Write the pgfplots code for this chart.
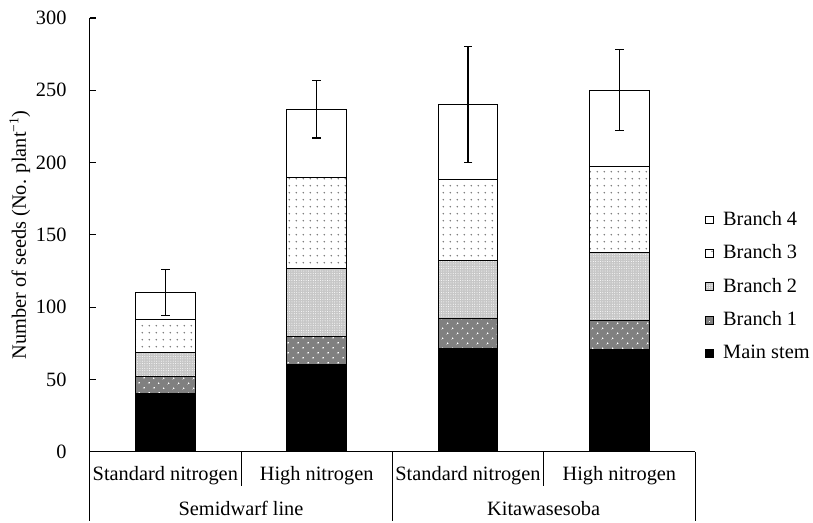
\documentclass[border=0pt,12pt]{standalone}
\usepackage{pgfplots}
\pgfplotsset{compat=1.18}
\usepackage{fontspec}
\setmainfont{Liberation Serif}
\usetikzlibrary{patterns,patterns.meta}

\pgfplotstableread{
x main b1 b2 b3 b4
0 40.5 11.5 16.5 23.0 18.5
1 60.0 20.0 46.5 63.5 47.0
2 71.5 21.0 39.5 56.0 52.0
3 71.0 20.0 46.5 59.5 53.0
}\seeds

\pgfplotstableread{
x top err
0 110 16
1 237 20
2 240 40
3 250 28
}\errs

\begin{document}
\begin{tikzpicture}
\pgfplotsset{
  common/.style={
    scale only axis,
    width=357.1pt, height=255.9pt,
    xmin=-0.5, xmax=3.5, ymin=0, ymax=300,
  }
}
\begin{axis}[
  common,
  ybar stacked,
  bar width=0.395,
  axis x line*=bottom,
  axis y line*=left,
  axis line style={line width=0.7pt},
  xtick=\empty,
  ytick={0,50,...,300},
  tick align=inside,
  major tick length=4pt,
  tick style={line width=0.7pt, black},
  yticklabel style={xshift=-9.5pt},
  /pgf/number format/assume math mode=true,
  clip=false,
  reverse legend,
  legend cell align=left,
  legend style={at={(1.0,0.381)}, anchor=west, draw=none, fill=none,
    inner sep=0pt, outer sep=0pt,
    row sep=5.6pt, column sep=3.5pt, xshift=6pt},
  legend image code/.code={\draw[#1, line width=0.5pt] (0pt,-2.3pt) rectangle (4.6pt,2.3pt);},
  every axis plot/.append style={draw=black, line width=0.6pt},
]
\addplot[fill=black] table[x=x, y=main] {\seeds};
\addlegendentry{Main stem}
\addplot[fill=black!50, postaction={pattern={Dots[distance=4pt, radius=0.55pt, angle=45]}, pattern color=white}] table[x=x, y=b1] {\seeds};
\addlegendentry{Branch 1}
\addplot[fill=black!22, postaction={pattern={Dots[distance=1.4pt, radius=0.3pt]}, pattern color=white}] table[x=x, y=b2] {\seeds};
\addlegendentry{Branch 2}
\addplot[fill=white, postaction={pattern={Dots[distance=4pt, radius=0.5pt]}, pattern color=black!55}] table[x=x, y=b3] {\seeds};
\addlegendentry{Branch 3}
\addplot[fill=white] table[x=x, y=b4] {\seeds};
\addlegendentry{Branch 4}

% category frame below the axis
\draw[line width=0.6pt] (axis cs:-0.5,0) -- ++(0pt,-40.6pt);
\draw[line width=0.6pt] (axis cs:0.5,0) -- ++(0pt,-20pt);
\draw[line width=0.6pt] (axis cs:1.5,0) -- ++(0pt,-40.6pt);
\draw[line width=0.6pt] (axis cs:2.5,0) -- ++(0pt,-20pt);
\draw[line width=0.6pt] (axis cs:3.5,0) -- ++(0pt,-40.6pt);
\node at ([yshift=-14.1pt]axis cs:0,0) {Standard nitrogen};
\node at ([yshift=-14.1pt]axis cs:1,0) {High nitrogen};
\node at ([yshift=-14.1pt]axis cs:2,0) {Standard nitrogen};
\node at ([yshift=-14.1pt]axis cs:3,0) {High nitrogen};
\node at ([yshift=-33.5pt]axis cs:0.5,0) {Semidwarf line};
\node at ([yshift=-33.5pt]axis cs:2.5,0) {Kitawasesoba};
\node[rotate=90] at ([xshift=-41.2pt]rel axis cs:0,0.5) {Number of seeds (No. plant\textsuperscript{\char"2212 1})};
% overall picture extent
\path ([xshift=-52.9pt, yshift=-40.6pt]rel axis cs:0,0) rectangle ([xshift=68.2pt, yshift=10.6pt]rel axis cs:1,1);
\end{axis}
\begin{axis}[
  common,
  hide axis,
]
\addplot[draw=none, mark=none,
  error bars/.cd, y dir=both, y explicit,
  error bar style={draw=black, line width=0.7pt},
  error mark options={rotate=90, mark size=2.5pt, line width=0.7pt, draw=black}]
  table[x=x, y=top, y error=err] {\errs};
\end{axis}
\end{tikzpicture}
\end{document}
